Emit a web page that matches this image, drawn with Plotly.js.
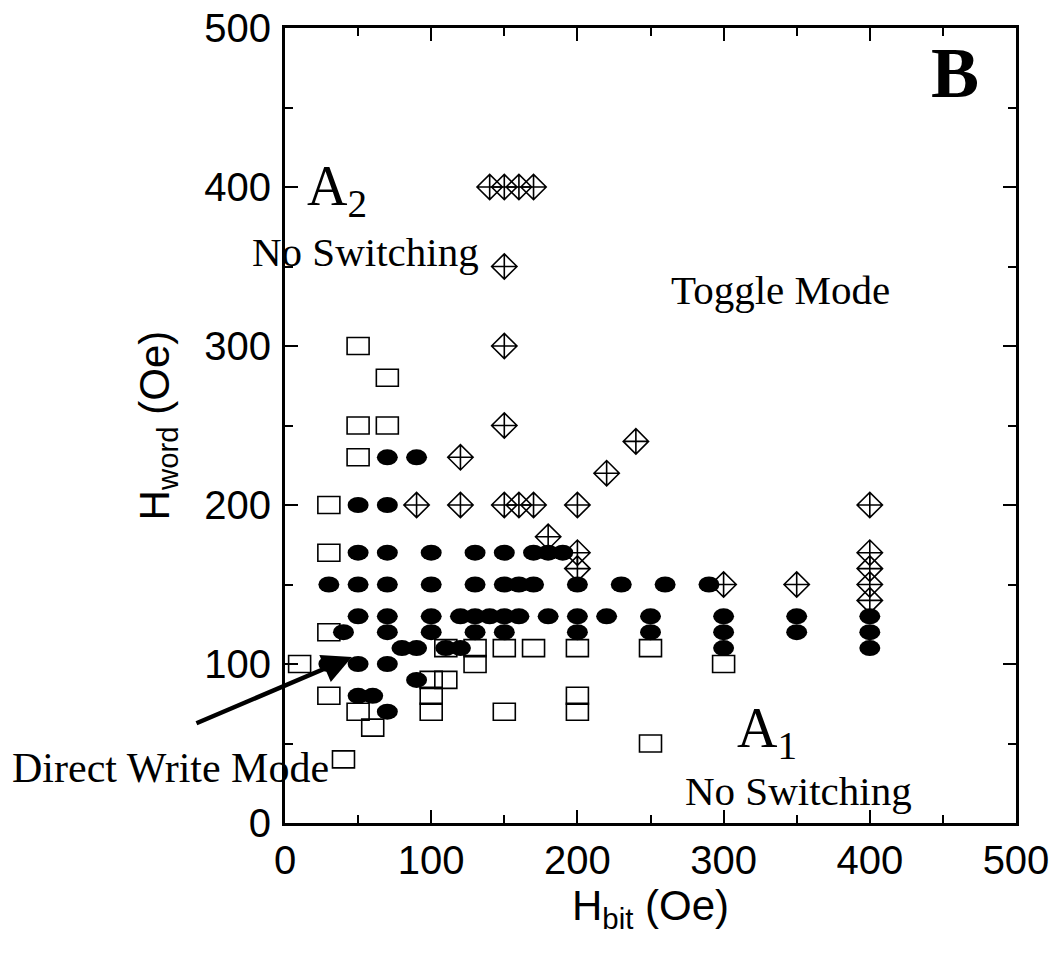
<!DOCTYPE html>
<html><head><meta charset="utf-8">
<script src="https://cdn.plot.ly/plotly-3.0.1.min.js"></script>
<style>html,body{margin:0;padding:0;background:#fff;} #chart{width:1052px;height:956px;}</style>
</head><body><div id="chart"></div>
<script>
// Direct Write Mode points (filled ellipses): H_bit, H_word in Oe
const directX = [70, 90,
  50, 70,
  50, 70, 100, 130, 150, 170, 180, 190,
  30, 50, 70, 100, 130, 150, 160, 170, 200, 230, 260, 290,
  50, 70, 100, 120, 130, 140, 150, 160, 180, 200, 220, 250, 300, 350, 400,
  40, 70, 100, 130, 150, 200, 250, 300, 350, 400,
  80, 90, 110, 120, 300, 400,
  30, 50, 70,
  90,
  50, 60,
  70];
const directY = [230, 230,
  200, 200,
  170, 170, 170, 170, 170, 170, 170, 170,
  150, 150, 150, 150, 150, 150, 150, 150, 150, 150, 150, 150,
  130, 130, 130, 130, 130, 130, 130, 130, 130, 130, 130, 130, 130, 130, 130,
  120, 120, 120, 120, 120, 120, 120, 120, 120, 120,
  110, 110, 110, 110, 110, 110,
  100, 100, 100,
  90,
  80, 80,
  70];

// No switching points (open squares)
const noSwitchX = [10, 30, 30, 30, 30, 50, 70, 50, 70, 50, 110, 130, 150, 170, 200, 250, 130, 300, 100, 110, 100, 200, 50, 100, 150, 200, 60, 250, 40];
const noSwitchY = [100, 200, 170, 120, 80, 300, 280, 250, 250, 230, 110, 110, 110, 110, 110, 110, 100, 100, 90, 90, 80, 80, 70, 70, 70, 70, 60, 50, 40];

// Toggle Mode points (crossed diamonds)
const toggleX = [140, 150, 160, 170, 150, 150, 150, 240, 120, 220, 90, 120, 150, 160, 170, 200, 180, 200, 200, 300, 350, 400, 400, 400, 400, 400];
const toggleY = [400, 400, 400, 400, 350, 300, 250, 240, 230, 220, 200, 200, 200, 200, 200, 200, 180, 170, 160, 150, 150, 200, 170, 160, 150, 140];

const tickValues = [0, 100, 200, 300, 400, 500];
const tickLabels = ['0', '100', '200', '300', '400', '500'];

const serif = '"Liberation Serif", "Times New Roman", serif';
const sans = '"Liberation Sans", Arial, sans-serif';

const traces = [
  {type:'scatter', mode:'markers', x:noSwitchX, y:noSwitchY, name:'No Switching',
   marker:{symbol:'square-open', size:18, color:'black', line:{width:1.6, color:'black'}}, cliponaxis:false},
  {type:'scatter', mode:'markers', x:directX, y:directY, name:'Direct Write',
   marker:{symbol:'circle', size:17, color:'black', line:{width:0}}, cliponaxis:false},
  {type:'scatter', mode:'markers', x:toggleX, y:toggleY, name:'Toggle',
   marker:{symbol:'diamond-cross-open', size:19.5, color:'black', line:{width:1.6, color:'black'}}, cliponaxis:false}
];

const axisCommon = {
  range:[0,500], tickmode:'array', tickvals:tickValues, ticktext:tickLabels,
  ticks:'inside', ticklen:13, tickwidth:2, tickcolor:'black',
  showline:true, linewidth:3, linecolor:'black', mirror:'allticks',
  showgrid:false, zeroline:false, fixedrange:true,
  tickfont:{family:sans, size:40, color:'black'},
  minor:{tick0:0, dtick:50, ticks:'inside', ticklen:8, tickwidth:2, tickcolor:'black', showgrid:false}
};

const layout = {
  width:1052, height:956,
  margin:{l:285, r:36, t:28, b:133},
  paper_bgcolor:'white', plot_bgcolor:'white',
  showlegend:false,
  font:{family:sans, color:'black'},
  xaxis:Object.assign({}, axisCommon, {
    ticklabelstandoff:0,
    title:{text:'H<sub>bit</sub> (Oe)', font:{family:sans, size:42, color:'black'}, standoff:10}
  }),
  yaxis:Object.assign({}, axisCommon, {
    ticklabelstandoff:3,
    title:{text:'H<sub>word</sub> (Oe)', font:{family:sans, size:42, color:'black'}, standoff:22}
  }),
  annotations:[
    {x:458, y:472, xref:'x', yref:'y', text:'<b>B</b>', showarrow:false, font:{family:serif, size:72, color:'black'}},
    {x:14, y:398, xref:'x', yref:'y', xanchor:'left', text:'A<sub>2</sub>', showarrow:false, font:{family:serif, size:56, color:'black'}},
    {x:55, y:359, xref:'x', yref:'y', text:'No Switching', showarrow:false, font:{family:serif, size:41, color:'black'}},
    {x:339, y:335, xref:'x', yref:'y', text:'Toggle Mode', showarrow:false, font:{family:serif, size:41, color:'black'}},
    {x:308, y:57, xref:'x', yref:'y', xanchor:'left', text:'A<sub>1</sub>', showarrow:false, font:{family:serif, size:56, color:'black'}},
    {x:351, y:20, xref:'x', yref:'y', text:'No Switching', showarrow:false, font:{family:serif, size:41, color:'black'}},
    {x:-0.376, y:0.069, xref:'paper', yref:'paper', xanchor:'left', yanchor:'middle', text:'Direct Write Mode', showarrow:false, font:{family:serif, size:42, color:'black'}},
    {x:45.8, y:104.4, xref:'x', yref:'y', ax:-61.6, ay:62.3, axref:'x', ayref:'y', text:'', showarrow:true,
     arrowhead:2, arrowsize:1.3, arrowwidth:4.5, arrowcolor:'black'}
  ]
};

Plotly.newPlot('chart', traces, layout, {staticPlot:true, displayModeBar:false}).then(function(gd){
  const groups = gd.querySelectorAll('.scatterlayer .trace');
  // squares: slightly wider than tall as in the reference
  if (groups[0]) groups[0].querySelectorAll('path.point').forEach(function(p){
    p.setAttribute('d', 'M11,8.5H-11V-8.5H11Z');
  });
  // filled ellipses
  if (groups[1]) groups[1].querySelectorAll('path.point').forEach(function(p){
    p.setAttribute('d', 'M10.5,0A10.5,8 0 1,1 0,-8A10.5,8 0 0,1 10.5,0Z');
  });
});
</script>
</body></html>
